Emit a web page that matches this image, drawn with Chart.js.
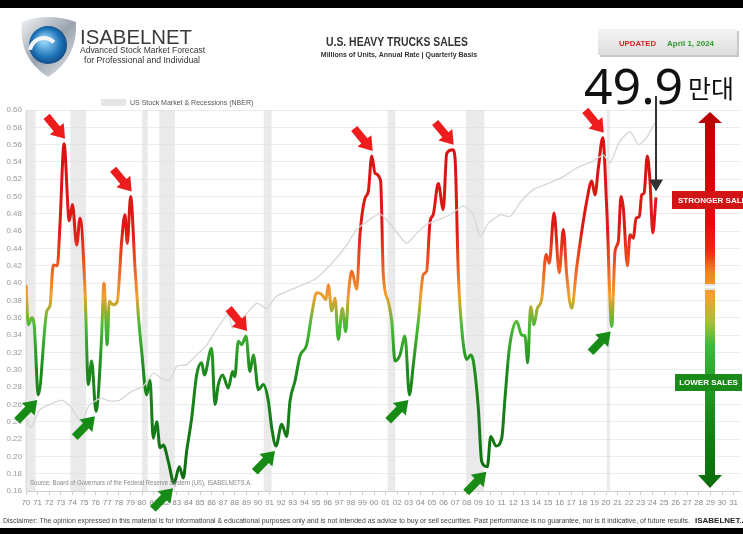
<!DOCTYPE html>
<html>
<head>
<meta charset="utf-8">
<script src="https://cdn.jsdelivr.net/npm/chart.js@4"></script>
<style>
  html, body { margin: 0; padding: 0; background: #fff; }
  #wrap { width: 743px; height: 534px; }
</style>
</head>
<body>
<div id="wrap"><canvas id="myChart" width="743" height="534"></canvas></div>
<script>
// heavy truck sales, millions of units
const truckYears = [1970.0, 1970.2, 1970.5, 1970.7, 1971.06, 1971.8, 1972.07, 1972.35, 1972.7, 1972.93,
  1973.28, 1973.73, 1974.0, 1974.37, 1974.66, 1975.09, 1975.37, 1975.66, 1976.03, 1976.5,
  1976.72, 1977.0, 1977.18, 1977.53, 1977.87, 1978.25, 1978.53, 1978.73, 1979.02, 1979.4,
  1979.68, 1979.97, 1980.4, 1980.69, 1980.97, 1981.27, 1981.55, 1981.84, 1982.27, 1982.76,
  1983.22, 1983.56, 1983.85, 1984.28, 1984.71, 1985.15, 1985.37, 1986.0, 1986.29, 1986.58,
  1986.95, 1987.44, 1987.81, 1988.0, 1988.3, 1988.6, 1988.97, 1989.3, 1989.6, 1990.03,
  1990.46, 1990.89, 1991.18, 1991.55, 1992.04, 1992.47, 1992.76, 1993.19, 1993.62, 1994.2,
  1994.63, 1995.06, 1995.49, 1995.86, 1996.06, 1996.35, 1996.64, 1996.92, 1997.27, 1997.56,
  1997.79, 1998.08, 1998.51, 1998.79, 1999.22, 1999.51, 1999.8, 2000.09, 2000.57, 2000.8,
  2001.23, 2001.53, 2001.81, 2002.24, 2002.67, 2003.05, 2003.39, 2003.82, 2004.25, 2004.54,
  2004.83, 2005.1, 2005.54, 2005.97, 2006.27, 2006.78, 2006.98, 2007.27, 2007.56, 2007.99,
  2008.33, 2008.56, 2008.99, 2009.28, 2009.77, 2010.06, 2010.52, 2011.01, 2011.29, 2011.67,
  2012.3, 2012.73, 2013.02, 2013.25, 2013.5, 2013.79, 2014.08, 2014.45, 2014.83, 2015.11,
  2015.52, 2015.97, 2016.32, 2016.61, 2017.04, 2017.47, 2017.91, 2018.34, 2018.77, 2019.05,
  2019.34, 2019.72, 2020.06, 2020.49, 2020.78, 2021.06, 2021.29, 2021.49, 2021.84, 2022.07,
  2022.35, 2022.59, 2022.87, 2023.08, 2023.28, 2023.56, 2023.79, 2024.03, 2024.31];
const truckSales = [0.398, 0.352, 0.360, 0.352, 0.271, 0.368, 0.374, 0.421, 0.420, 0.468,
  0.561, 0.472, 0.491, 0.444, 0.475, 0.391, 0.283, 0.310, 0.252, 0.333,
  0.400, 0.329, 0.379, 0.375, 0.379, 0.449, 0.479, 0.446, 0.500, 0.417,
  0.363, 0.322, 0.271, 0.288, 0.221, 0.240, 0.210, 0.213, 0.194, 0.169,
  0.188, 0.175, 0.206, 0.244, 0.294, 0.308, 0.294, 0.325, 0.260, 0.283,
  0.294, 0.279, 0.298, 0.292, 0.333, 0.329, 0.339, 0.298, 0.317, 0.277,
  0.283, 0.264, 0.233, 0.212, 0.237, 0.223, 0.264, 0.287, 0.316, 0.329,
  0.364, 0.389, 0.387, 0.381, 0.398, 0.368, 0.383, 0.335, 0.371, 0.344,
  0.387, 0.414, 0.393, 0.456, 0.498, 0.506, 0.547, 0.527, 0.518, 0.410,
  0.379, 0.356, 0.310, 0.317, 0.339, 0.271, 0.306, 0.356, 0.410, 0.414,
  0.471, 0.479, 0.515, 0.485, 0.550, 0.554, 0.545, 0.410, 0.348, 0.312,
  0.317, 0.310, 0.256, 0.194, 0.188, 0.223, 0.212, 0.221, 0.267, 0.325,
  0.356, 0.340, 0.339, 0.308, 0.373, 0.352, 0.371, 0.381, 0.433, 0.423,
  0.481, 0.412, 0.462, 0.410, 0.371, 0.418, 0.460, 0.495, 0.518, 0.502,
  0.533, 0.568, 0.487, 0.350, 0.437, 0.448, 0.500, 0.487, 0.420, 0.456,
  0.452, 0.475, 0.477, 0.502, 0.504, 0.547, 0.518, 0.458, 0.499];

// stock market line, drawn on the same visual scale
const stockYears = [1970.0, 1970.4, 1971.2, 1972.07, 1973.08, 1973.8, 1974.8, 1975.4, 1976.4, 1977.24,
  1978.1, 1979.1, 1980.1, 1980.97, 1981.7, 1982.4, 1983.0, 1983.85, 1984.7, 1985.6,
  1986.4, 1987.44, 1987.8, 1988.7, 1989.9, 1990.75, 1991.6, 1992.76, 1994.2, 1995.06,
  1996.5, 1997.65, 1998.5, 1999.37, 2000.5, 2001.66, 2002.8, 2003.7, 2004.54, 2005.5,
  2006.55, 2007.7, 2008.56, 2009.14, 2009.85, 2010.86, 2011.72, 2012.6, 2013.73, 2015.17,
  2016.32, 2017.47, 2018.9, 2019.77, 2020.34, 2021.2, 2022.07, 2022.8, 2023.5, 2024.2];
const stockLevel = [0.245, 0.233, 0.254, 0.260, 0.265, 0.258, 0.239, 0.258, 0.267, 0.264,
  0.265, 0.275, 0.281, 0.296, 0.290, 0.288, 0.304, 0.306, 0.317, 0.329,
  0.346, 0.364, 0.348, 0.360, 0.377, 0.371, 0.385, 0.392, 0.400, 0.406,
  0.425, 0.444, 0.462, 0.471, 0.480, 0.464, 0.446, 0.458, 0.468, 0.473,
  0.479, 0.489, 0.479, 0.454, 0.469, 0.479, 0.477, 0.493, 0.508, 0.516,
  0.523, 0.533, 0.541, 0.548, 0.539, 0.564, 0.575, 0.560, 0.568, 0.585];

// NBER recessions [start, end]
const recessions = [[1969.92, 1970.83], [1973.83, 1975.17], [1980.0, 1980.5], [1981.5, 1982.83],
  [1990.5, 1991.17], [2001.17, 2001.83], [2007.92, 2009.5], [2020.08, 2020.33]];

const peakYears = [1973.28, 1979.02, 1988.97, 1999.8, 2006.78, 2019.72];
const troughYears = [1971.06, 1976.03, 1982.76, 1991.55, 2003.05, 2009.77, 2020.49];

const yearTicks = [];
for (let y = 1970; y <= 2031; y++) yearTicks.push(y);

const latestValue = '49.9';
const latestUnit = '만대';

const NARROW = '"Liberation Sans Narrow", "Liberation Sans", Arial, sans-serif';

function salesGradient(context) {
  const { ctx, chartArea, scales } = context.chart;
  if (!chartArea) return '#1f8c1f';
  const y0 = scales.y.getPixelForValue(0.16);
  const y1 = scales.y.getPixelForValue(0.60);
  const g = ctx.createLinearGradient(0, y0, 0, y1);
  const stop = (v, c) => g.addColorStop((v - 0.16) / 0.44, c);
  stop(0.16, '#0d6a10');
  stop(0.30, '#1c8a1c');
  stop(0.352, '#4abb37');
  stop(0.385, '#f0a030');
  stop(0.42, '#ec5a22');
  stop(0.46, '#df1a16');
  stop(0.60, '#d60f0f');
  return g;
}

function blockArrow(ctx, tipX, tipY, angle, len, shaftW, headW, headL, fill) {
  ctx.save();
  ctx.translate(tipX, tipY);
  ctx.rotate(angle);
  ctx.beginPath();
  ctx.moveTo(0, 0);
  ctx.lineTo(-headL, -headW / 2);
  ctx.lineTo(-headL, -shaftW / 2);
  ctx.lineTo(-len, -shaftW / 2);
  ctx.lineTo(-len, shaftW / 2);
  ctx.lineTo(-headL, shaftW / 2);
  ctx.lineTo(-headL, headW / 2);
  ctx.closePath();
  ctx.fillStyle = fill;
  ctx.fill();
  ctx.restore();
}

function valueAt(year) {
  const i = truckYears.indexOf(year);
  return truckSales[i];
}

const decor = {
  id: 'decor',
  beforeDraw(chart) {
    const ctx = chart.ctx;
    ctx.save();
    ctx.fillStyle = '#fff';
    ctx.fillRect(0, 0, chart.width, chart.height);
    ctx.restore();
  },
  beforeDatasetsDraw(chart) {
    const { ctx, chartArea, scales } = chart;
    ctx.save();
    ctx.fillStyle = 'rgba(225,225,225,0.7)';
    recessions.forEach(([a, b]) => {
      const x0 = scales.x.getPixelForValue(a);
      const x1 = scales.x.getPixelForValue(b);
      ctx.fillRect(x0, chartArea.top, x1 - x0, chartArea.bottom - chartArea.top);
    });
    ctx.restore();
  },
  afterDraw(chart) {
    const { ctx, chartArea, scales } = chart;
    const X = v => scales.x.getPixelForValue(v);
    const Y = v => scales.y.getPixelForValue(v);
    ctx.save();

    // peak / trough arrows
    peakYears.forEach(yr => {
      blockArrow(ctx, X(yr) + 1, Y(valueAt(yr)) - 5, 0.88, 29, 8, 18, 13, '#ee1c1c');
    });
    troughYears.forEach(yr => {
      blockArrow(ctx, X(yr) - 1, Y(valueAt(yr)) + 5, -0.80, 29, 8, 18, 13, '#168c16');
    });

    // big strength arrow on the right
    const ax = 710, top = 112, bot = 488;
    const g = ctx.createLinearGradient(0, top, 0, bot);
    g.addColorStop(0, '#b80000');
    g.addColorStop(0.30, '#e20e0e');
    g.addColorStop(0.37, '#e92c12');
    g.addColorStop(0.43, '#f08a20');
    g.addColorStop(0.49, '#f5a030');
    g.addColorStop(0.56, '#a5c132');
    g.addColorStop(0.62, '#3cbb3c');
    g.addColorStop(0.80, '#178a17');
    g.addColorStop(1, '#0a6a0a');
    ctx.fillStyle = g;
    ctx.beginPath();
    ctx.moveTo(ax, top);
    ctx.lineTo(ax + 12, top + 11);
    ctx.lineTo(ax + 5, top + 11);
    ctx.lineTo(ax + 5, bot - 13);
    ctx.lineTo(ax + 12, bot - 13);
    ctx.lineTo(ax, bot);
    ctx.lineTo(ax - 12, bot - 13);
    ctx.lineTo(ax - 5, bot - 13);
    ctx.lineTo(ax - 5, top + 11);
    ctx.lineTo(ax - 12, top + 11);
    ctx.closePath();
    ctx.fill();
    ctx.fillStyle = '#e4e4e4';
    ctx.fillRect(ax - 5, 284, 10, 6);
    ctx.fillStyle = '#fff';
    ctx.fillRect(ax - 5, 286, 10, 2);

    ctx.fillStyle = '#d31414';
    ctx.fillRect(672, 191, 71, 18);
    ctx.fillStyle = '#1a8a1a';
    ctx.fillRect(675, 374, 67, 17);
    ctx.fillStyle = '#fff';
    ctx.font = 'bold 8px ' + NARROW;
    ctx.textBaseline = 'middle';
    ctx.textAlign = 'left';
    ctx.fillText('STRONGER SALES', 678, 200.5);
    ctx.textAlign = 'center';
    ctx.fillText('LOWER SALES', 708.5, 383);

    // legend
    ctx.fillStyle = '#e6e6e6';
    ctx.fillRect(101, 99, 25, 7);
    ctx.fillStyle = '#555';
    ctx.font = '7px ' + NARROW;
    ctx.textAlign = 'left';
    ctx.fillText('US Stock Market & Recessions (NBER)', 130, 103);

    // source
    ctx.fillStyle = '#888';
    ctx.font = '7px ' + NARROW;
    ctx.fillText('Source: Board of Governors of the Federal Reserve System (US), ISABELNETS.A.', 30, 483, 222);

    // header
    ctx.fillStyle = '#000';
    ctx.fillRect(0, 0, chart.width, 8);
    ctx.fillRect(0, 528, chart.width, 6);

    // logo
    const lg = ctx.createLinearGradient(20, 18, 76, 76);
    lg.addColorStop(0, '#f2f4f6');
    lg.addColorStop(0.5, '#9aa3ad');
    lg.addColorStop(1, '#e6e9ec');
    ctx.fillStyle = lg;
    ctx.beginPath();
    ctx.moveTo(22, 22);
    ctx.quadraticCurveTo(48, 12, 76, 22);
    ctx.quadraticCurveTo(78, 58, 48, 77);
    ctx.quadraticCurveTo(18, 58, 22, 22);
    ctx.fill();
    const bg = ctx.createRadialGradient(44, 40, 3, 48, 45, 22);
    bg.addColorStop(0, '#8fd0f5');
    bg.addColorStop(0.6, '#1e73b8');
    bg.addColorStop(1, '#0b3d73');
    ctx.fillStyle = bg;
    ctx.beginPath();
    ctx.arc(48, 45, 19, 0, Math.PI * 2);
    ctx.fill();
    ctx.strokeStyle = '#f4f6f8';
    ctx.lineWidth = 4;
    ctx.beginPath();
    ctx.arc(44, 52, 14, Math.PI * 1.05, Math.PI * 1.75);
    ctx.stroke();

    ctx.fillStyle = '#3a3a3a';
    ctx.textBaseline = 'alphabetic';
    ctx.font = '21px "Liberation Sans", Arial, sans-serif';
    ctx.fillText('ISABELNET', 80, 44, 112);
    ctx.font = '9px ' + NARROW;
    ctx.fillStyle = '#333';
    ctx.fillText('Advanced Stock Market Forecast', 80, 53, 125);
    ctx.fillText('for Professional and Individual', 84, 63, 116);

    ctx.textAlign = 'center';
    ctx.fillStyle = '#333';
    ctx.font = 'bold 12px ' + NARROW;
    ctx.fillText('U.S. HEAVY TRUCKS SALES', 397, 46, 142);
    ctx.font = 'bold 7px ' + NARROW;
    ctx.fillText('Millions of Units, Annual Rate | Quarterly Basis', 399, 57, 165);

    // updated box
    const ub = ctx.createLinearGradient(0, 29, 0, 56);
    ub.addColorStop(0, '#f4f4f4');
    ub.addColorStop(1, '#dcdcdc');
    ctx.fillStyle = '#c8c8c8';
    ctx.fillRect(600, 31, 139, 26);
    ctx.fillStyle = ub;
    ctx.fillRect(598, 29, 139, 26);
    ctx.font = 'bold 8px ' + NARROW;
    ctx.textAlign = 'left';
    ctx.fillStyle = '#e02020';
    ctx.fillText('UPDATED', 619, 46, 37);
    ctx.fillStyle = '#2e9a2e';
    ctx.fillText('April 1, 2024', 667, 46, 47);

    // latest reading callout
    ctx.fillStyle = '#111';
    ctx.font = '50px "Noto Sans", "DejaVu Sans", sans-serif';
    ctx.fillText(latestValue, 584, 104, 102);
    ctx.font = '25px "Noto Sans CJK KR", sans-serif';
    ctx.fillText(latestUnit, 688, 98);
    const lx = X(truckYears[truckYears.length - 1]);
    const ly = Y(truckSales[truckSales.length - 1]);
    ctx.strokeStyle = '#333';
    ctx.lineWidth = 2;
    ctx.beginPath();
    ctx.moveTo(lx, 96);
    ctx.lineTo(lx, ly - 16);
    ctx.stroke();
    ctx.fillStyle = '#333';
    ctx.beginPath();
    ctx.moveTo(lx - 7, ly - 18);
    ctx.lineTo(lx + 7, ly - 18);
    ctx.lineTo(lx, ly - 6);
    ctx.closePath();
    ctx.fill();

    // disclaimer
    ctx.fillStyle = '#444';
    ctx.font = '7px ' + NARROW;
    ctx.textAlign = 'left';
    ctx.textBaseline = 'middle';
    ctx.fillText('Disclaimer: The opinion expressed in this material is for informational & educational purposes only and is not intended as advice to buy or sell securities. Past performance is no guarantee, nor is it indicative, of future results.', 3, 521, 687);
    ctx.fillStyle = '#222';
    ctx.font = 'bold 8px ' + NARROW;
    ctx.fillText('ISABELNET.A', 695, 521);

    ctx.restore();
  }
};

new Chart(document.getElementById('myChart'), {
  type: 'line',
  data: {
    datasets: [{
      label: 'US Stock Market',
      data: stockYears.map((x, i) => ({ x, y: stockLevel[i] })),
      borderColor: '#d6d6d6',
      borderWidth: 1.3,
      pointRadius: 0,
      tension: 0.2
    }, {
      label: 'Heavy Trucks Sales',
      data: truckYears.map((x, i) => ({ x, y: truckSales[i] })),
      borderColor: salesGradient,
      borderWidth: 3,
      pointRadius: 0,
      cubicInterpolationMode: 'monotone'
    }]
  },
  options: {
    responsive: false,
    animation: false,
    events: [],
    layout: { padding: { top: 110, right: 3, left: 0, bottom: 0 } },
    plugins: { legend: { display: false }, tooltip: { enabled: false } },
    scales: {
      x: {
        type: 'linear',
        min: 1970,
        max: 2031.55,
        afterBuildTicks: s => { s.ticks = yearTicks.map(v => ({ value: v })); },
        afterFit: s => { s.height = 43; },
        ticks: {
          autoSkip: false,
          maxRotation: 0,
          padding: 3,
          color: '#888',
          font: { size: 8, family: NARROW },
          callback: v => String(v % 100).padStart(2, '0')
        },
        grid: { drawOnChartArea: false, tickLength: 4, color: '#cfcfcf' },
        border: { color: '#cfcfcf' }
      },
      y: {
        min: 0.16,
        max: 0.60,
        afterFit: s => { s.width = 26; },
        ticks: {
          stepSize: 0.02,
          padding: 4,
          color: '#999',
          font: { size: 8, family: NARROW },
          callback: v => v.toFixed(2)
        },
        grid: { color: '#ececec', drawTicks: false },
        border: { color: '#dcdcdc' }
      }
    }
  },
  plugins: [decor]
});
</script>
</body>
</html>
